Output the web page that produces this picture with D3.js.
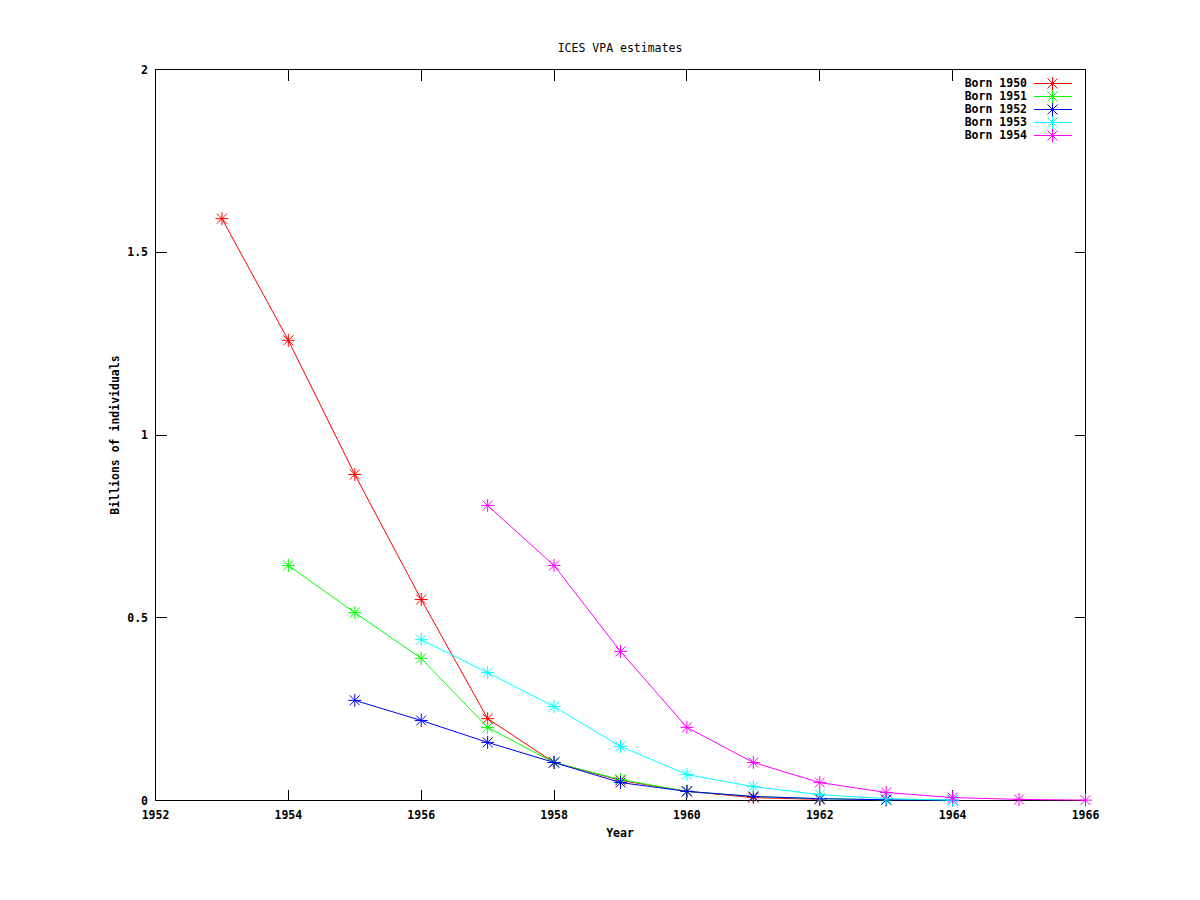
<!DOCTYPE html>
<html><head><meta charset="utf-8">
<script src="https://cdn.jsdelivr.net/npm/d3@7"></script>
<style>body{margin:0;background:#fff}text{font-family:"DejaVu Sans Mono",monospace;font-size:11.5px}</style>
</head><body><svg id="c" width="1200" height="900"></svg>
<script>
const title = "ICES VPA estimates";
const xLabel = "Year";
const yLabel = "Billions of individuals";
const seriesNames = ["Born 1950","Born 1951","Born 1952","Born 1953","Born 1954"];
const seriesColors = ["#ff0000","#00ff00","#0000ff","#00ffff","#ff00ff"];
const startYears = [1953,1954,1955,1956,1957];
const born1950 = [1.592,1.259,0.892,0.550,0.224,0.104,0.055,0.025,0.008,0.003];
const born1951 = [0.643,0.514,0.389,0.200,0.104,0.057,0.025,0.011,0.005,0.002];
const born1952 = [0.274,0.219,0.159,0.104,0.049,0.025,0.011,0.005,0.002,0.001];
const born1953 = [0.440,0.350,0.257,0.148,0.071,0.038,0.016,0.005,0.001];
const born1954 = [0.807,0.643,0.408,0.200,0.104,0.049,0.022,0.008,0.003,0.001];
const seriesValues = [born1950,born1951,born1952,born1953,born1954];
const xTicks = [1952,1954,1956,1958,1960,1962,1964,1966];
const yTicks = [0,0.5,1,1.5,2];
const yTickLabels = ["0","0.5","1","1.5","2"];

const svg = d3.select("#c");
const L=155.5,R=1085.5,T=69.5,B=800.5;
const x = d3.scaleLinear().domain([1952,1966]).range([L,R]);
const y = d3.scaleLinear().domain([0,2]).range([B,T]);
const tl = 11;

// frame
svg.append("rect").attr("x",L).attr("y",T).attr("width",R-L).attr("height",B-T)
  .attr("fill","none").attr("stroke","#000").attr("shape-rendering","crispEdges");
// ticks
const g = svg.append("g").attr("stroke","#000").attr("shape-rendering","crispEdges");
xTicks.forEach(t=>{
  const px=Math.round(x(t)-0.5)+0.5;
  g.append("line").attr("x1",px).attr("x2",px).attr("y1",B).attr("y2",B-tl);
  g.append("line").attr("x1",px).attr("x2",px).attr("y1",T).attr("y2",T+tl);
});
yTicks.forEach(t=>{
  const py=Math.round(y(t)-0.5)+0.5;
  g.append("line").attr("x1",L).attr("x2",L+tl).attr("y1",py).attr("y2",py);
  g.append("line").attr("x1",R).attr("x2",R-tl).attr("y1",py).attr("y2",py);
});
// tick labels
xTicks.forEach(t=>{
  svg.append("text").attr("x",x(t)).attr("y",819).attr("text-anchor","middle")
    .attr("font-weight","bold").text(t);
});
yTicks.forEach((t,i)=>{
  svg.append("text").attr("x",148).attr("y",y(t)+4).attr("text-anchor","end")
    .attr("font-weight","bold").text(yTickLabels[i]);
});
svg.append("text").attr("x",620).attr("y",52).attr("text-anchor","middle").text(title);
svg.append("text").attr("x",620).attr("y",837).attr("text-anchor","middle").attr("font-weight","bold").text(xLabel);
svg.append("text").attr("transform","translate(119,435) rotate(-90)").attr("text-anchor","middle").attr("font-weight","bold").text(yLabel);

function star(sel,cx,cy,color){
  const s=6.5, d=5;
  const p=sel.append("path")
    .attr("d",`M${cx-s},${cy}H${cx+s}M${cx},${cy-s}V${cy+s}M${cx-d},${cy-d}L${cx+d},${cy+d}M${cx-d},${cy+d}L${cx+d},${cy-d}`)
    .attr("stroke",color).attr("stroke-width",1).attr("fill","none");
}
const line = d3.line().x(d=>x(d[0])).y(d=>y(d[1]));
seriesValues.forEach((vals,i)=>{
  const pts = vals.map((v,j)=>[startYears[i]+j,v]);
  svg.append("path").datum(pts).attr("d",line).attr("fill","none")
    .attr("stroke",seriesColors[i]).attr("stroke-width",1);
  pts.forEach(p=>star(svg,x(p[0]),y(p[1]),seriesColors[i]));
});
// legend
seriesNames.forEach((n,i)=>{
  const ly = 83 + i*13;
  svg.append("text").attr("x",1027).attr("y",ly+4).attr("text-anchor","end").attr("font-weight","bold").text(n);
  svg.append("line").attr("x1",1034).attr("x2",1072).attr("y1",ly+0.5).attr("y2",ly+0.5)
    .attr("stroke",seriesColors[i]).attr("shape-rendering","crispEdges");
  star(svg,1052.5,ly+0.5,seriesColors[i]);
});
</script></body></html>
